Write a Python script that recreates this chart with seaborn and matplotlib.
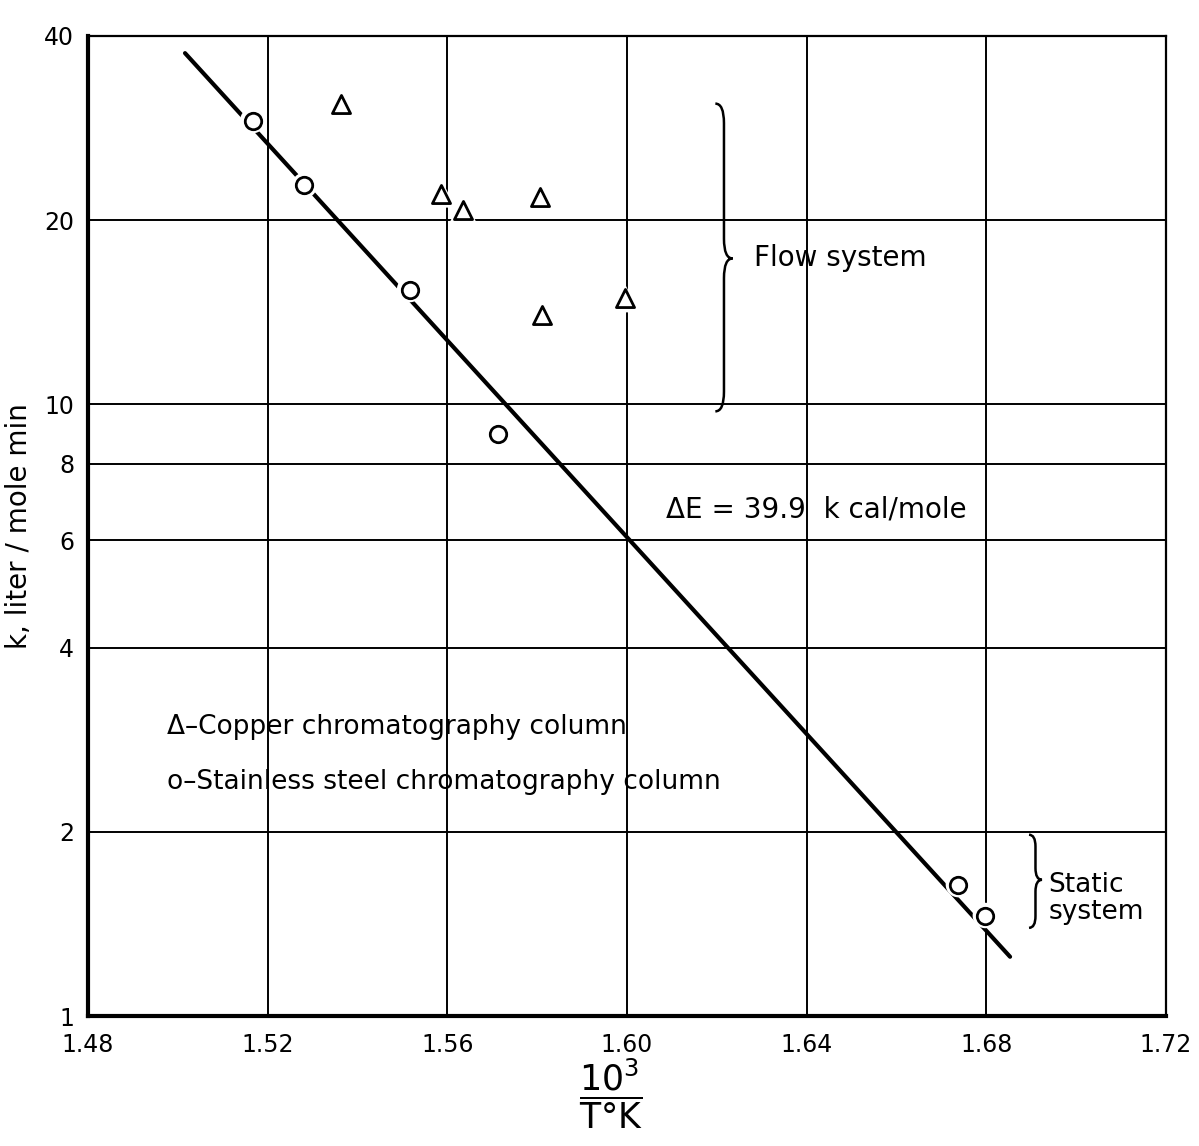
import numpy as np
import pandas as pd
import matplotlib
matplotlib.use("Agg")
import matplotlib.pyplot as plt
from matplotlib.path import Path
from matplotlib.patches import PathPatch
import seaborn as sns

# data
copper_x = [1.5364, 1.5587, 1.5635, 1.5806, 1.5811, 1.5996]
copper_k = [31.0, 22.1, 20.8, 21.8, 14.0, 14.9]
steel_x = [1.5167, 1.5282, 1.5516, 1.5713, 1.6738, 1.6798]
steel_k = [29.1, 22.8, 15.4, 8.93, 1.64, 1.46]
fit_x = [1.5016, 1.6853]
fit_k = [37.5, 1.25]

x_ticks = [1.48, 1.52, 1.56, 1.60, 1.64, 1.68, 1.72]
x_labels = ["1.48", "1.52", "1.56", "1.60", "1.64", "1.68", "1.72"]
y_ticks = [1, 2, 4, 6, 8, 10, 20, 40]
y_labels = ["1", "2", "4", "6", "8", "10", "20", "40"]

copper = pd.DataFrame({"x": copper_x, "k": copper_k})
steel = pd.DataFrame({"x": steel_x, "k": steel_k})
fit = pd.DataFrame({"x": fit_x, "k": fit_k})

sns.set_style("white")
plt.rcParams["font.family"] = ["DejaVu Sans"]
plt.rcParams["text.color"] = "black"
plt.rcParams["axes.labelcolor"] = "black"
plt.rcParams["xtick.color"] = "black"
plt.rcParams["ytick.color"] = "black"

fig = plt.figure(figsize=(11.99, 11.46), dpi=100)
ax = fig.add_axes([0.0734, 0.1134, 0.8990, 0.8552])
ax.set_yscale("log")
ax.set_xlim(1.48, 1.72)
ax.set_ylim(1, 40)

for v in x_ticks[1:-1]:
    ax.axvline(v, color="black", lw=1.4, zorder=1)
for v in y_ticks[1:-1]:
    ax.axhline(v, color="black", lw=1.4, zorder=1)

sns.lineplot(data=fit, x="x", y="k", color="black", lw=3.0, ax=ax, zorder=2)

# white halo behind markers so lines break around them like in the original
for df, m, s in [(copper, "^", 170), (steel, "o", 140)]:
    sns.scatterplot(data=df, x="x", y="k", marker=m, s=s * 2.4, color="white",
                    edgecolor="none", ax=ax, zorder=3, legend=False)
    sns.scatterplot(data=df, x="x", y="k", marker=m, s=s, facecolor="white",
                    edgecolor="black", linewidth=2.0, ax=ax, zorder=4, legend=False)

ax.set_xticks(x_ticks)
ax.set_xticklabels(x_labels, fontsize=17)
ax.set_yticks(y_ticks)
ax.set_yticklabels(y_labels, fontsize=17)
ax.yaxis.set_minor_locator(matplotlib.ticker.NullLocator())
ax.tick_params(length=0, pad=10)
ax.tick_params(axis="x", pad=12)
ax.set_xlabel("")
ax.set_ylabel("k, liter / mole min", fontsize=20, labelpad=8)

for side in ["left", "bottom"]:
    ax.spines[side].set_linewidth(3.0)
for side in ["top", "right"]:
    ax.spines[side].set_linewidth(1.6)
for sp in ax.spines.values():
    sp.set_color("black")


def brace(ax, x0, w, y0, y1, ym, d=0.02):
    xm = x0 + w / 2
    verts = [(x0, y1), (xm, y1), (xm, y1 - d), (xm, ym + d),
             (xm, ym), (x0 + w, ym), (xm, ym), (xm, ym - d),
             (xm, y0 + d), (xm, y0), (x0, y0)]
    codes = [Path.MOVETO, Path.CURVE3, Path.CURVE3, Path.LINETO,
             Path.CURVE3, Path.CURVE3, Path.CURVE3, Path.CURVE3,
             Path.LINETO, Path.CURVE3, Path.CURVE3]
    ax.add_patch(PathPatch(Path(verts, codes), transform=ax.transAxes,
                           fill=False, lw=1.8, color="black", zorder=5))


brace(ax, 0.582, 0.016, 0.617, 0.931, 0.773)
brace(ax, 0.873, 0.012, 0.090, 0.185, 0.139, d=0.012)

ax.text(0.618, 0.773, "Flow system", transform=ax.transAxes,
        fontsize=20, va="center", ha="left")
ax.text(0.891, 0.120, "Static\nsystem", transform=ax.transAxes,
        fontsize=19, va="center", ha="left", linespacing=1.05)
ax.text(0.536, 0.517, "\u0394E = 39.9  k cal/mole", transform=ax.transAxes,
        fontsize=20, va="center", ha="left")
ax.text(0.073, 0.295, "\u0394\u2013Copper chromatography column",
        transform=ax.transAxes, fontsize=19, va="center", ha="left")
ax.text(0.073, 0.2386, "o\u2013Stainless steel chromatography column",
        transform=ax.transAxes, fontsize=19, va="center", ha="left")

fig.text(0.510, 0.045, r"$\dfrac{10^{3}}{\mathrm{T\degree K}}$",
         fontsize=25, ha="center", va="center")

fig.savefig("out.png", dpi=100, facecolor="white")
